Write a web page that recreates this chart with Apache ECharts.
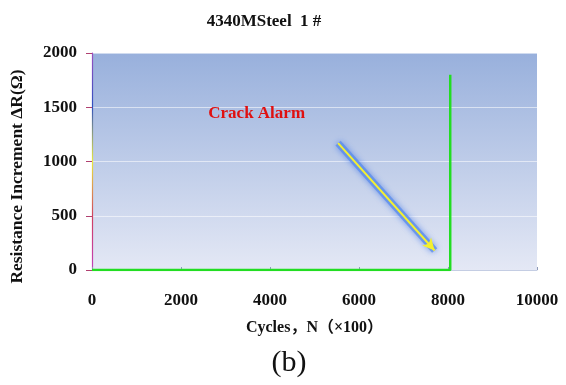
<!DOCTYPE html>
<html><head><meta charset="utf-8">
<script src="https://cdn.jsdelivr.net/npm/echarts@6/dist/echarts.min.js"></script>
<style>html,body{margin:0;padding:0;background:#fff}#c{width:566px;height:385px}</style>
</head><body><div id="c"></div>
<script>
const titleText = '4340MSteel  1 #';
const xName = 'Cycles，N（×100）';
const yName = 'Resistance Increment ΔR(Ω)';
const subLabel = '(b)';
const xTicks = [0, 2000, 4000, 6000, 8000, 10000];
const yTicks = [0, 500, 1000, 1500, 2000];
const cycles = [0, 8050, 8050];
const resistance = [0, 0, 1800];
const alarmText = 'Crack Alarm';
const alarmPos = [3700, 1445];
const arrowStart = [5530, 1170];
const arrowEnd = [7700, 180];

const serif = '"Liberation Serif","Times New Roman","Noto Sans CJK SC",serif';
const chart = echarts.init(document.getElementById('c'));
chart.setOption({
  animation: false,
  title: [{
    text: titleText, left: 259, top: 8, textAlign: 'center',
    textStyle: {fontFamily: serif, fontWeight: 'bold', fontSize: 17, color: '#111'}
  }, {
    text: subLabel, left: 284, top: 343, textAlign: 'center',
    textStyle: {fontFamily: serif, fontWeight: 'normal', fontSize: 30, color: '#111'}
  }],
  grid: {
    left: 92, right: 29, top: 53, bottom: 115, show: true, borderWidth: 0,
    backgroundColor: new echarts.graphic.LinearGradient(0, 0, 0, 1, [
      {offset: 0, color: '#98b0dc'}, {offset: 1, color: '#e4e8f5'}])
  },
  xAxis: {
    type: 'value', min: 0, max: 10000, interval: 2000,
    name: xName, nameLocation: 'middle', nameGap: 50,
    nameTextStyle: {fontFamily: serif, fontWeight: 'bold', fontSize: 16, color: '#111'},
    axisLine: {show: true, lineStyle: {color: '#c4cde3', width: 1}},
    axisTick: {show: true, inside: true, length: 3, lineStyle: {color: '#8e9ab8'}},
    splitLine: {show: false},
    axisLabel: {fontFamily: serif, fontWeight: 'bold', fontSize: 17, color: '#111', margin: 22,
      formatter: v => xTicks.includes(v) ? String(v) : ''}
  },
  yAxis: {
    type: 'value', min: 0, max: 2000, interval: 500,
    name: yName, nameLocation: 'middle', nameGap: 66, nameRotate: 90,
    nameTextStyle: {fontFamily: serif, fontWeight: 'bold', fontSize: 17.5, color: '#111', padding: [0, 30, 0, 0]},
    axisLine: {show: true, lineStyle: {width: 1.2, color: new echarts.graphic.LinearGradient(0, 0, 0, 1, [
      {offset: 0, color: '#a050c0'}, {offset: 0.25, color: '#3050c0'},
      {offset: 0.5, color: '#e8e840'}, {offset: 0.75, color: '#d04060'}, {offset: 1, color: '#c040c0'}])}},
    axisTick: {show: true, length: 6, lineStyle: {color: '#b04070'}},
    splitLine: {show: true, lineStyle: {color: 'rgba(255,255,255,0.55)', width: 1}},
    axisLabel: {fontFamily: serif, fontWeight: 'bold', fontSize: 17, color: '#111', margin: 15,
      formatter: v => yTicks.includes(v) ? String(v) : ''}
  },
  series: [{
    type: 'line', data: cycles.map((x, i) => [x, resistance[i]]),
    symbol: 'none', lineStyle: {color: '#22dd22', width: 2.5}, z: 5,
    markPoint: {
      symbol: 'circle', symbolSize: 0,
      label: {show: true, formatter: alarmText, fontFamily: serif, fontWeight: 'bold',
        fontSize: 17, color: '#e01010', position: 'inside'},
      data: [{coord: alarmPos}]
    },
    markLine: {
      silent: true, symbol: ['none', 'arrow'], symbolSize: [9, 12],
      label: {show: false},
      data: [
        [{coord: arrowStart, lineStyle: {type: 'solid', color: 'rgba(90,140,235,0.75)', width: 7, shadowBlur: 6, shadowColor: 'rgba(70,120,230,0.9)'}, symbolSize: 0}, {coord: arrowEnd, symbol: 'none'}],
        [{coord: arrowStart, lineStyle: {type: 'solid', color: '#f4f030', width: 2}}, {coord: arrowEnd}]
      ]
    }
  }]
});
</script></body></html>
